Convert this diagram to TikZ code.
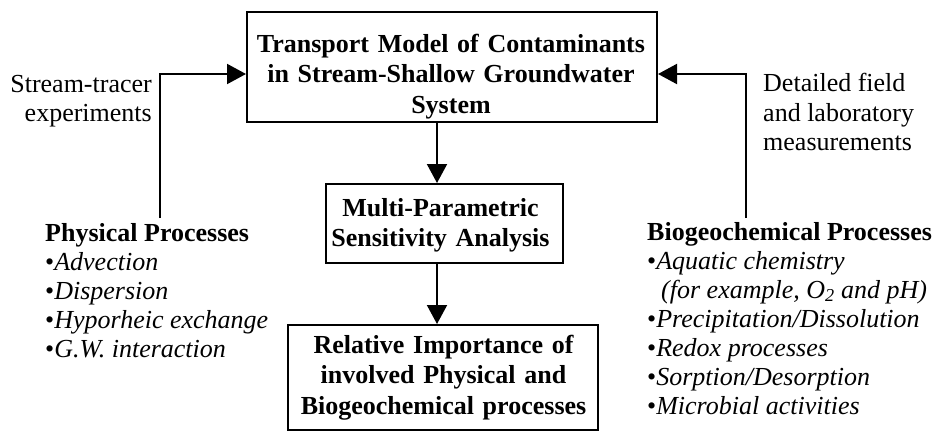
\documentclass[tikz,border=0pt]{standalone}
\usepackage{fontspec}
\setmainfont{Liberation Serif}
\usetikzlibrary{arrows.meta, positioning}

\begin{document}
\begin{tikzpicture}
[x=1pt, y=-1pt,
 font=\fontsize{26}{29}\selectfont,
 every node/.style={inner sep=0pt},
 box/.style={rectangle, draw=black, line width=2pt},
 boxtxt/.style={font=\fontsize{26}{30.5}\selectfont\bfseries, align=center, text width=#1, anchor=base},
 head/.style={font=\fontsize{26}{29}\selectfont\bfseries, anchor=base west},
 item/.style={anchor=base west},
 ->/.style={line width=2pt, arrows={-Triangle[length=19pt, width=20pt]}}]

\useasboundingbox (0,0) rectangle (937,431);

% boxes of the middle column
\node[box, minimum width=410pt, minimum height=110pt] (model) at (452,67) {};
\node[box, minimum width=236.5pt, minimum height=79pt] (sens) at (444.7,223.5) {};
\node[box, minimum width=310pt, minimum height=105pt] (rel) at (443,377.5) {};

\node[boxtxt=420pt] (modeltxt) at (451,52) {Transport Model of Contaminants\\in Stream-Shallow Groundwater\\System};
\node[boxtxt=240pt] (senstxt) at (440.5,216) {Multi-Parametric\\Sensitivity Analysis};
\node[boxtxt=320pt] (reltxt) at (443.5,353) {Relative Importance of\\involved Physical and\\Biogeochemical processes};

% side labels
\node[anchor=base east] (tracer1) at (152,92) {Stream-tracer};
\node[anchor=base east] (tracer2) at (152,121) {experiments};
\node[anchor=base west] (field1) at (763,91) {Detailed field};
\node[anchor=base west] (field2) at (763,121) {and laboratory};
\node[anchor=base west] (field3) at (763,150) {measurements};

% physical processes
\node[head] (physhead) at (45,241) {Physical Processes};
\foreach \txt [count=\i] in {Advection, Dispersion, Hyporheic exchange, G.W. interaction}
  \node[item] (phys\i) at (45,{241+29*\i}) {•\textit{\txt}};

% biogeochemical processes
\node[head] (biohead) at (647,240) {Biogeochemical Processes};
\node[item] (bio1) at (647,269) {•\textit{Aquatic chemistry}};
\node[item] (bio2) at (661,298) {\textit{(for example, O\textsubscript{2} and pH)}};
\node[item] (bio3) at (647,327) {•\textit{Precipitation/Dissolution}};
\node[item] (bio4) at (647,356) {•\textit{Redox processes}};
\node[item] (bio5) at (647,385) {•\textit{Sorption/Desorption}};
\node[item] (bio6) at (647,414) {•\textit{Microbial activities}};

% connectors
\coordinate (axis) at (437,0);
\coordinate (lfoot) at (159.5,218);
\coordinate (lknee) at (159.5,74);
\coordinate (rfoot) at (746,218);
\coordinate (rknee) at (746,74);

\draw[->] (model.south -| axis) -- (sens.north -| axis);
\draw[->] (sens.south -| axis) -- (rel.north -| axis);
\draw[->] (lfoot) -- (lknee) -- (lknee -| model.west);
\draw[->] (rfoot) -- (rknee) -- (rknee -| model.east);

\end{tikzpicture}
\end{document}
